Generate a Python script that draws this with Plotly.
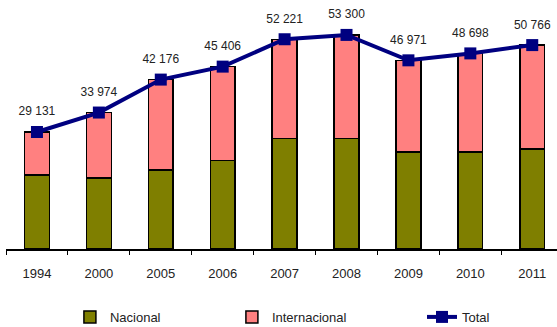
import plotly.graph_objects as go

years = ["1994", "2000", "2005", "2006", "2007", "2008", "2009", "2010", "2011"]
total = [29131, 33974, 42176, 45406, 52221, 53300, 46971, 48698, 50766]
nacional = [18400, 17700, 19700, 22000, 27500, 27500, 24200, 24100, 24900]
internacional = [t - n for t, n in zip(total, nacional)]


def fmt(v):
    return f"{v:,}".replace(",", " ")


fig = go.Figure()
fig.add_trace(go.Bar(x=years, y=nacional, name="Nacional", legend="legend",
                     marker=dict(color="#7f7f00", line=dict(color="black", width=1.5))))
fig.add_trace(go.Bar(x=years, y=internacional, name="Internacional", legend="legend2",
                     marker=dict(color="#ff8080", line=dict(color="black", width=1.5))))
fig.add_trace(go.Scatter(x=years, y=total, name="Total", mode="lines+markers", legend="legend3",
                         line=dict(color="#000080", width=4),
                         marker=dict(symbol="square", size=12, color="#000080")))
# value labels above the total markers (big invisible markers push the text up)
fig.add_trace(go.Scatter(x=years, y=total, mode="markers+text", showlegend=False,
                         text=[fmt(t) for t in total], textposition="top center",
                         textfont=dict(size=12, color="#222222"),
                         marker=dict(size=20, color="rgba(0,0,0,0)"), hoverinfo="skip"))

leg = dict(orientation="h", y=-0.282, yanchor="middle", font=dict(size=13),
           bgcolor="rgba(0,0,0,0)")
fig.update_layout(
    width=557, height=327, autosize=False,
    barmode="stack", bargap=0.6,
    plot_bgcolor="white", paper_bgcolor="white",
    margin=dict(l=6, r=0, t=8, b=78, autoexpand=False),
    font=dict(family="Liberation Sans, Arial, sans-serif", size=11, color="#222222"),
    showlegend=True,
    legend=dict(leg, x=0.116, xanchor="left"),
    legend2=dict(leg, x=0.41, xanchor="left"),
    legend3=dict(leg, x=0.755, xanchor="left"),
)
fig.update_xaxes(type="category", showline=True, linecolor="black", linewidth=1.5,
                 ticks="outside", tickson="boundaries", ticklen=4, tickcolor="black",
                 ticklabelstandoff=12, tickfont=dict(size=13),
                 range=[-0.5, 8.4], showgrid=False)
fig.update_yaxes(range=[0, 60000], showgrid=False, showline=False, zeroline=False,
                 showticklabels=False, ticks="")

# page body has a default 8px margin; drop it so the figure fills the window
fig.write_html("out.html", config={"displayModeBar": False},
               post_script="document.body.style.margin='0';")
